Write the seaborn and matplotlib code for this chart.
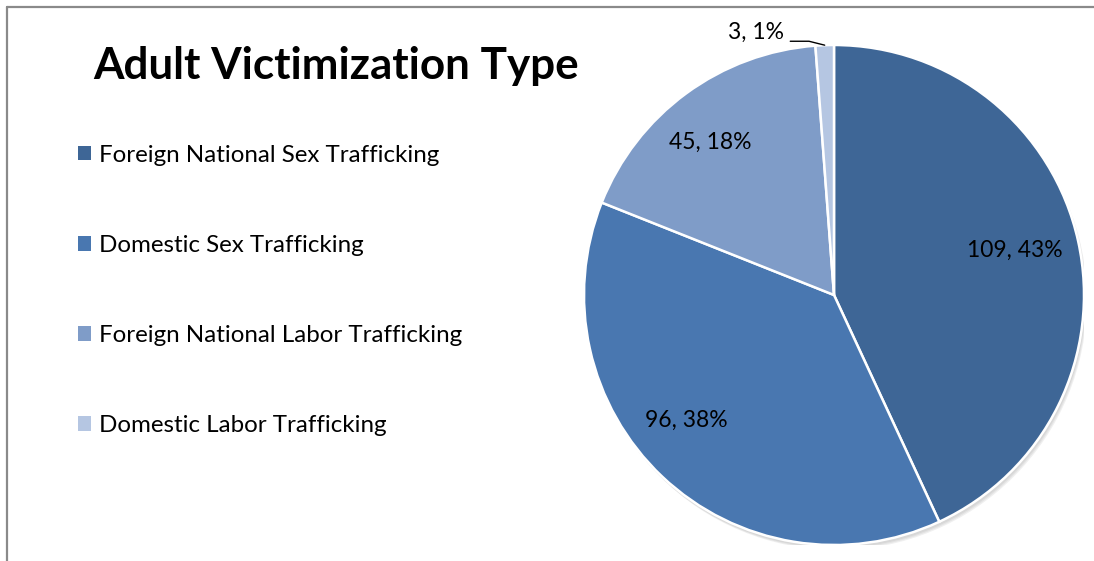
import numpy as np
import matplotlib
matplotlib.use("Agg")
import matplotlib.pyplot as plt
from matplotlib.patches import Patch, Circle
import seaborn as sns

categories = [
    "Foreign National Sex Trafficking",
    "Domestic Sex Trafficking",
    "Foreign National Labor Trafficking",
    "Domestic Labor Trafficking",
]
counts = [109, 96, 45, 3]
slice_colors = ["#3E6696", "#4977B0", "#7F9CC8", "#B5C6E2"]

sns.set_theme(style="white")
plt.rcParams["font.family"] = ["Lato", "DejaVu Sans"]

W, H = 1094, 561
fig = plt.figure(figsize=(W / 100, H / 100), dpi=100)
fig.patch.set_facecolor("white")

# frame lines on the left and top edges
fig.add_artist(plt.Line2D([7 / W, 7 / W], [0, 1 - 7 / H], color="#8a8a8a", lw=1.6))
fig.add_artist(plt.Line2D([7 / W, 1], [1 - 7 / H, 1 - 7 / H], color="#8a8a8a", lw=1.6))

# pie axes: centre (834, 295), radius 250 px
cx, cy, r = 834, 295, 250
ax = fig.add_axes([(cx - r) / W, (H - cy - r) / H, 2 * r / W, 2 * r / H])

palette = sns.color_palette(slice_colors)
total = sum(counts)

# soft drop shadow beneath the pie
for k, a in enumerate([0.05, 0.05, 0.06]):
    ax.add_patch(Circle((0.006 + 0.003 * k, -0.012 - 0.004 * k), 1.0, color="black", alpha=a, lw=0, zorder=0))

wedges, _ = ax.pie(
    counts,
    colors=palette,
    startangle=90,
    counterclock=False,
    radius=1.0,
    wedgeprops=dict(edgecolor="white", linewidth=1.8),
)
for w in wedges:
    w.set_zorder(2)

ax.set_xlim(-1, 1)
ax.set_ylim(-1, 1)
ax.set_aspect("equal")
ax.axis("off")

# label placement inside each slice: radius and angular nudge (degrees)
label_r = [0.745, 0.776, 0.785]
label_shift = [1.5, -6.4, 2.7]
for i, (w, v) in enumerate(zip(wedges, counts)):
    pct = round(v / total * 100)
    text = f"{v}, {pct}%"
    mid_deg = (w.theta1 + w.theta2) / 2
    if i < 3:
        a = np.deg2rad(mid_deg + label_shift[i])
        ax.text(label_r[i] * np.cos(a), label_r[i] * np.sin(a), text,
                ha="center", va="center", fontsize=16.5, color="black", zorder=3)
    else:
        a = np.deg2rad(mid_deg)
        ex, ey = np.cos(a), np.sin(a)
        tx, ty = -0.2, 1.05
        ax.text(tx, ty, text, ha="right", va="center", fontsize=16.5, color="black",
                zorder=3, clip_on=False)
        ax.plot([tx + 0.025, tx + 0.1, ex], [ty - 0.035, ty - 0.035, ey], color="black",
                lw=1.0, zorder=3, clip_on=False)

fig.text(93 / W, 1 - 66 / H, "Adult Victimization Type", ha="left", va="center",
         fontsize=31.7, fontweight="bold", color="black")

handles = [Patch(facecolor=c, edgecolor="none") for c in palette]
leg = fig.legend(
    handles, categories,
    loc="upper left",
    bbox_to_anchor=(68 / W, 1 - 135 / H),
    frameon=False,
    fontsize=17.4,
    labelcolor="black",
    handlelength=0.55,
    handleheight=0.55,
    handletextpad=0.35,
    labelspacing=2.86,
    borderaxespad=0,
)

fig.savefig("out.png", dpi=100, facecolor="white")
